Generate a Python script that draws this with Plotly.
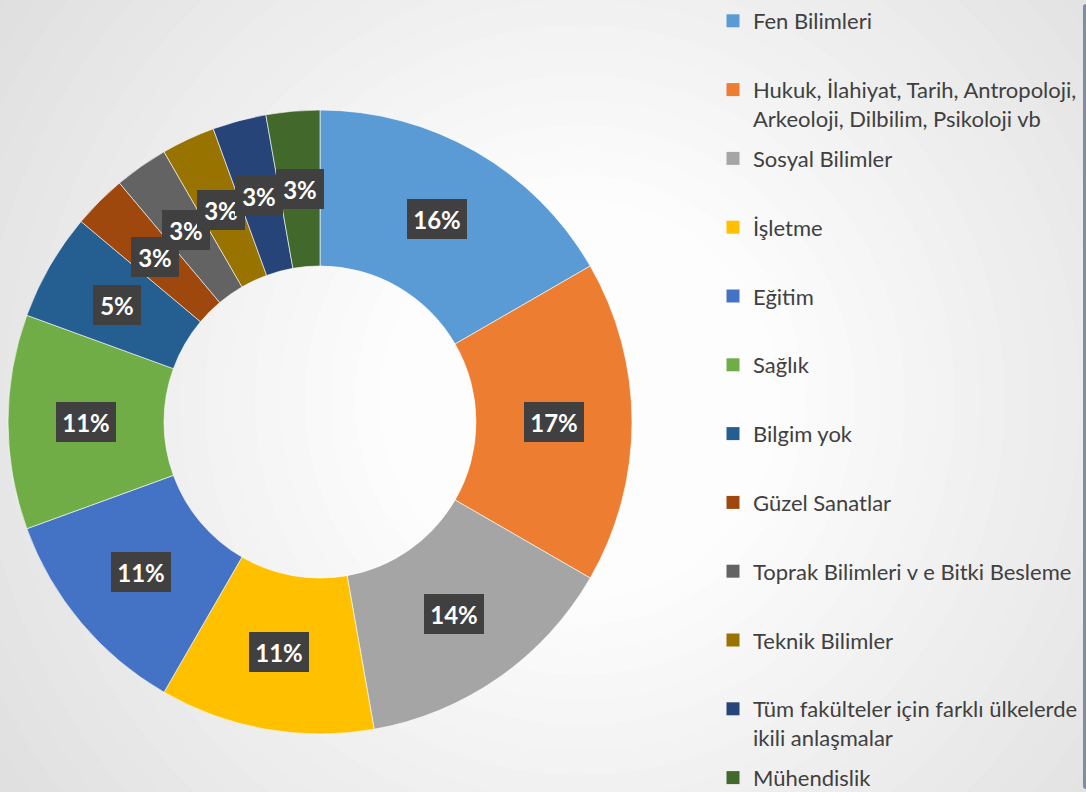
import math
import plotly.graph_objects as go

categories = [
    "Fen Bilimleri",
    "Hukuk, İlahiyat, Tarih, Antropoloji,<br>Arkeoloji, Dilbilim, Psikoloji vb",
    "Sosyal Bilimler",
    "İşletme",
    "Eğitim",
    "Sağlık",
    "Bilgim yok",
    "Güzel Sanatlar",
    "Toprak Bilimleri v e Bitki Besleme",
    "Teknik Bilimler",
    "Tüm fakülteler için farklı ülkelerde<br>ikili anlaşmalar",
    "Mühendislik",
]
values = [6, 6, 5, 4, 4, 4, 2, 1, 1, 1, 1, 1]
pct_labels = ["16%", "17%", "14%", "11%", "11%", "11%", "5%", "3%", "3%", "3%", "3%", "3%"]
colors = ["#5B9BD5", "#ED7D31", "#A5A5A5", "#FFC000", "#4472C4", "#70AD47",
          "#255E91", "#9E480E", "#636363", "#997300", "#264478", "#43682B"]

W, H = 1086, 792
CX, CY, R = 320, 422, 312  # pie centre / radius in pixels
HOLE = 0.5

dom_x = [(CX - R) / W, (CX + R) / W]
dom_y = [(H - CY - R) / H, (H - CY + R) / H]

fig = go.Figure()

fig.add_trace(go.Pie(
    labels=categories,
    values=values,
    hole=HOLE,
    sort=False,
    direction="clockwise",
    rotation=0,
    marker=dict(colors=colors, line=dict(color="rgba(255,255,255,0.6)", width=1)),
    textinfo="none",
    hoverinfo="label+percent",
    showlegend=False,
    domain=dict(x=dom_x, y=dom_y),
))

# legend entries (single-line names padded to two lines so every entry has the same pitch)
last = len(categories) - 1
for i, (name, col) in enumerate(zip(categories, colors)):
    label = name if ("<br>" in name or i == last) else name + "<br> "
    fig.add_trace(go.Scatter(
        x=[None], y=[None], mode="markers", name=label,
        legendgroup=name,
        marker=dict(symbol="square", size=13, color=col),
        hoverinfo="skip",
    ))

# data label boxes at mid-ring radius
total = sum(values)
cum = 0
annotations = []
rmid = (HOLE + 1) / 2 * R
for v, t in zip(values, pct_labels):
    mid = (cum + v / 2) / total * 2 * math.pi
    cum += v
    px = CX + rmid * math.sin(mid)
    py = CY - rmid * math.cos(mid)
    annotations.append(dict(
        x=px / W, y=1 - py / H, xref="paper", yref="paper",
        text="<b>" + t + "</b>", showarrow=False,
        font=dict(family="Lato", size=24, color="white"),
        bgcolor="#404040", borderpad=0, borderwidth=0,
        width=60 if len(t) == 3 else 48, height=40,
        xanchor="center", yanchor="middle",
    ))

# soft radial background
shapes = []
bcx, bcy = 580, 400
for r in range(950, 49, -25):
    g = int(round(max(212, min(253, 253 - max(0, r - 200) * 0.058))))
    c = f"rgb({g},{g},{g})"
    shapes.append(dict(
        type="circle", xref="paper", yref="paper", layer="below",
        x0=(bcx - r) / W, x1=(bcx + r) / W,
        y0=1 - (bcy + r) / H, y1=1 - (bcy - r) / H,
        fillcolor=c, line=dict(width=0),
    ))

fig.update_layout(
    width=W, height=H,
    margin=dict(l=0, r=0, t=0, b=0),
    paper_bgcolor="rgb(212,212,212)",
    plot_bgcolor="rgba(0,0,0,0)",
    xaxis=dict(visible=False),
    yaxis=dict(visible=False),
    shapes=shapes,
    annotations=annotations,
    legend=dict(
        x=713 / W, y=1.0, xanchor="left", yanchor="top",
        font=dict(family="Lato", size=22, color="#404040"),
        valign="top",
        tracegroupgap=8.6,
        bgcolor="rgba(0,0,0,0)",
        itemclick=False, itemdoubleclick=False,
    ),
    showlegend=True,
)

fig.write_html(
    "out.html",
    config={"displayModeBar": False},
    post_script="document.body.style.margin='0';document.body.style.overflow='hidden';",
)
